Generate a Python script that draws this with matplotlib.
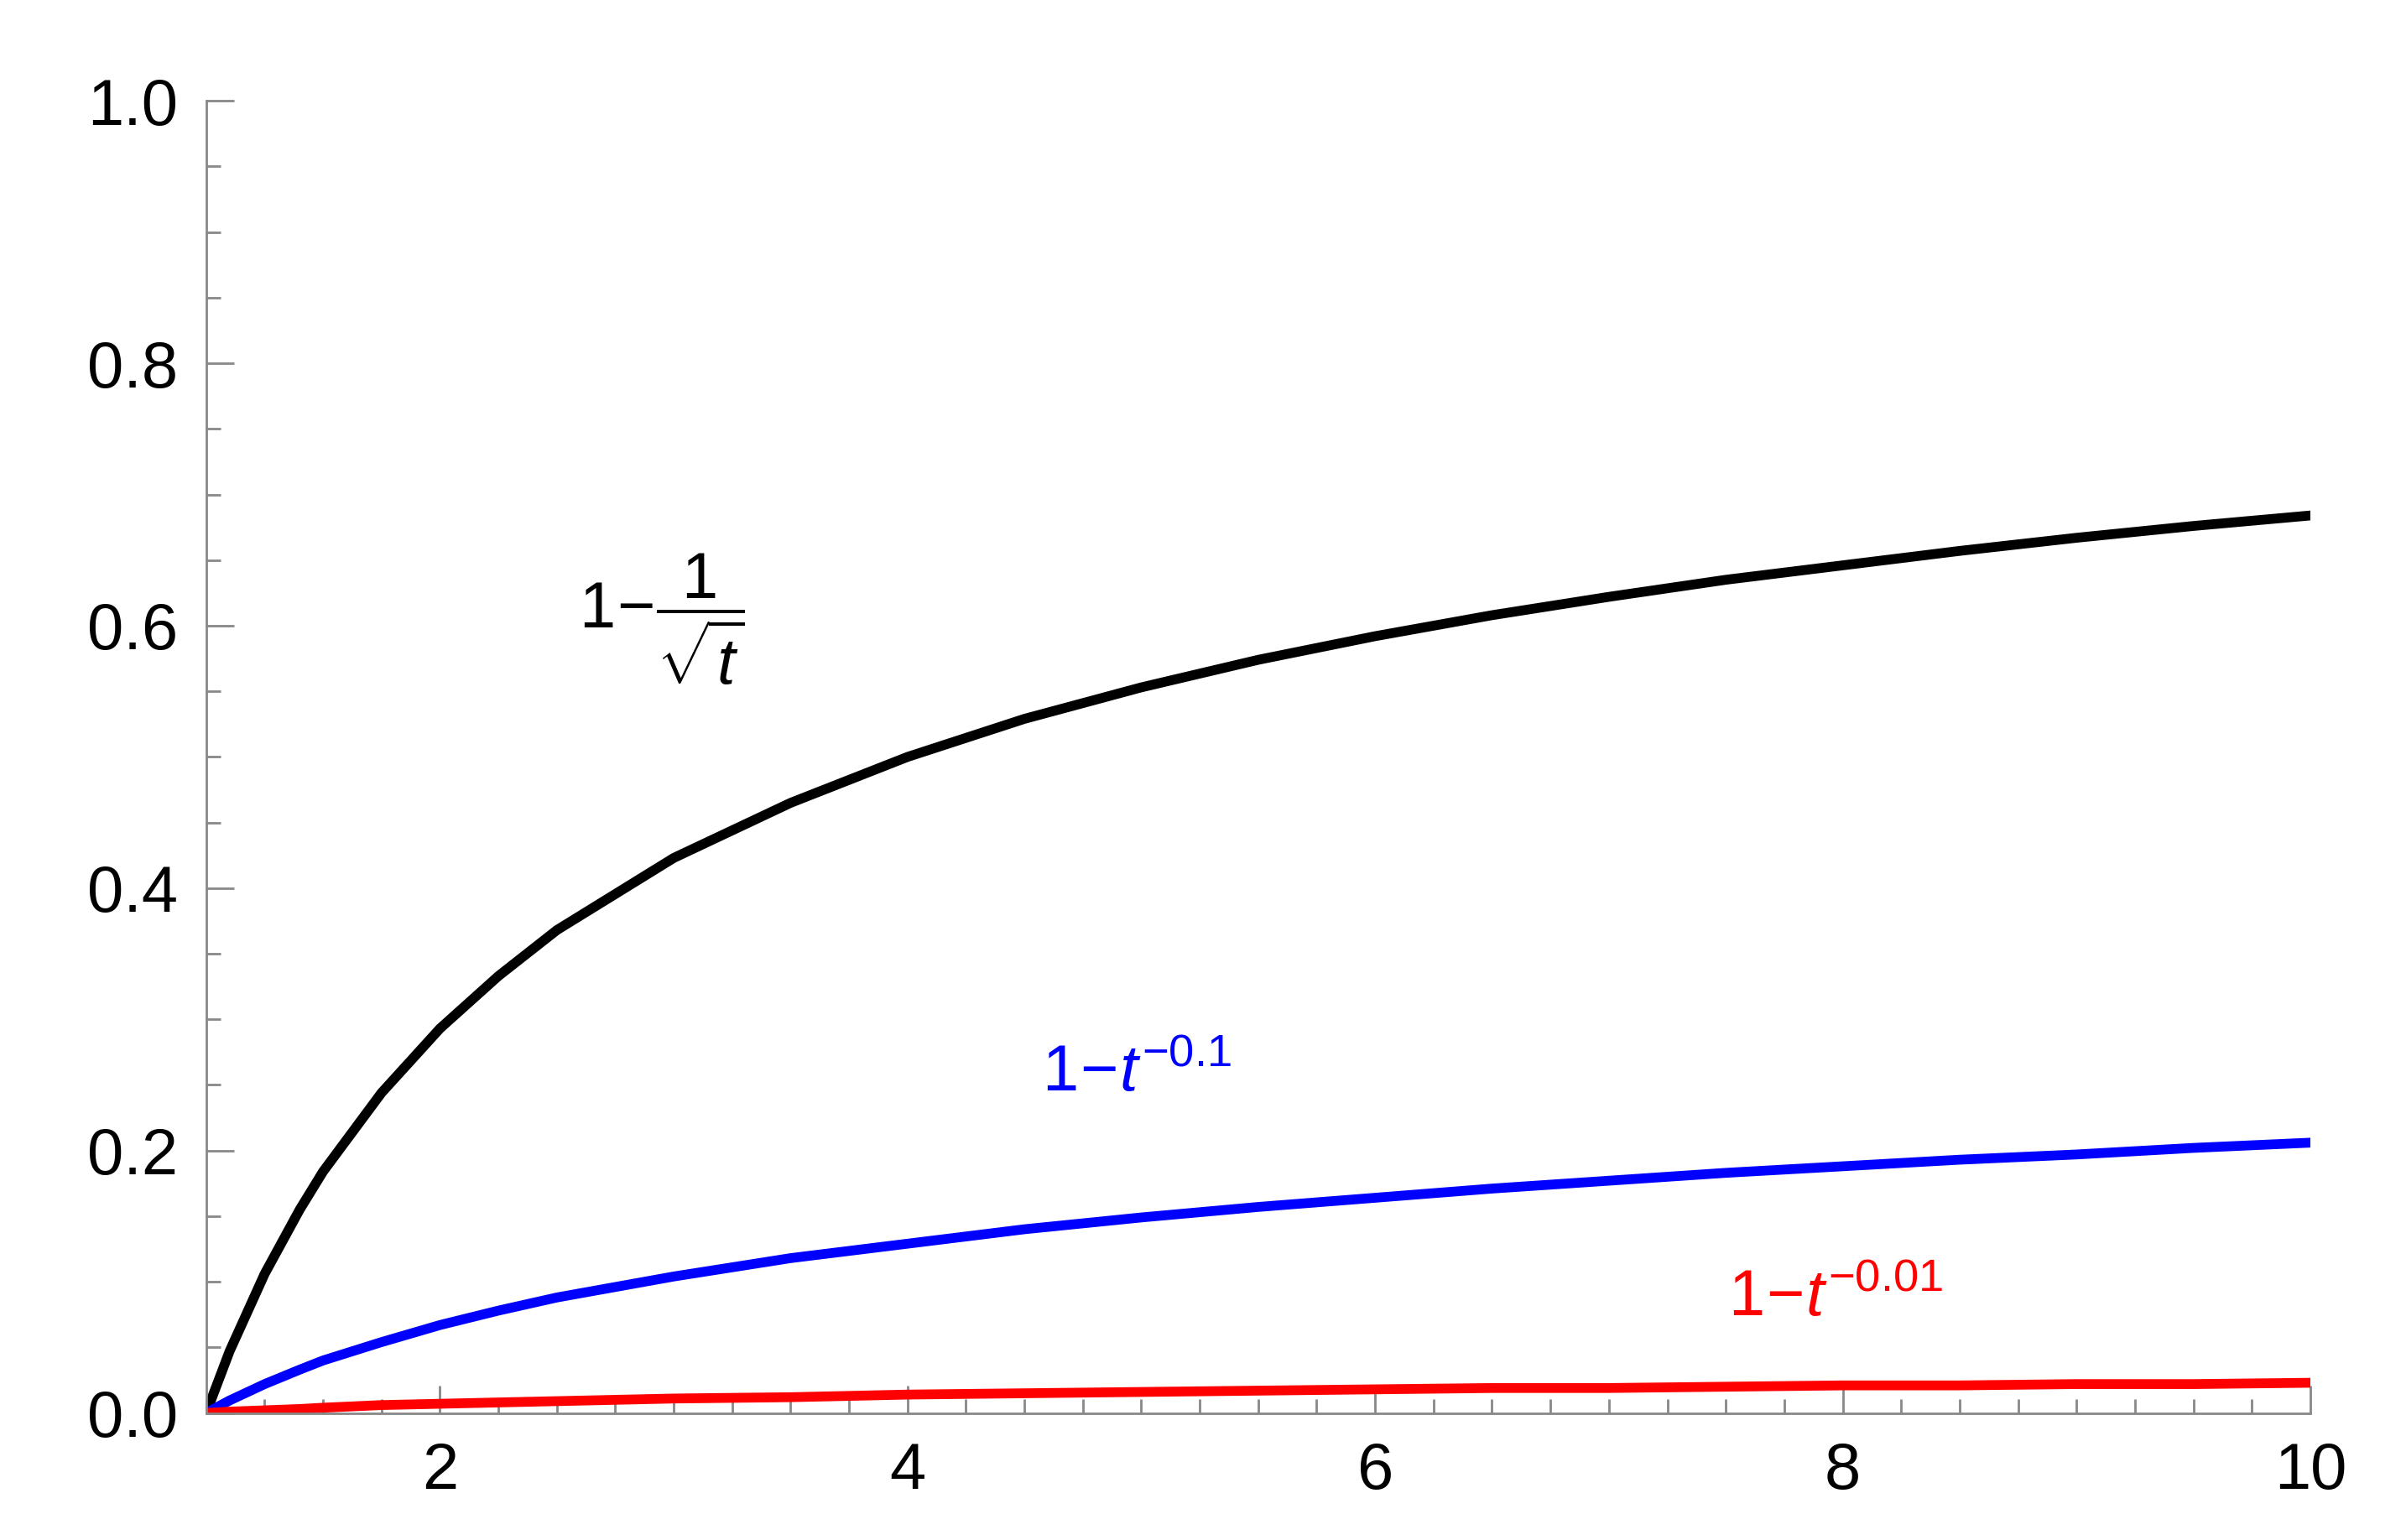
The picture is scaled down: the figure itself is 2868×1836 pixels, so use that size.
import matplotlib
matplotlib.use("Agg")
import matplotlib.pyplot as plt
from matplotlib.ticker import MultipleLocator

plt.rcParams['font.family'] = ['Liberation Sans', 'DejaVu Sans']
plt.rcParams['mathtext.fontset'] = 'custom'
plt.rcParams['mathtext.rm'] = 'Liberation Sans'
plt.rcParams['mathtext.it'] = 'Liberation Sans:italic'
plt.rcParams['mathtext.bf'] = 'Liberation Sans:bold'

# values
t = [1, 1.1, 1.25, 1.4, 1.5, 1.75, 2, 2.25, 2.5, 3, 3.5, 4, 4.5, 5, 5.5, 6, 6.5, 7, 7.5, 8,
     8.5, 9, 9.5, 10]
black = [0, .047, .106, .155, .184, .244, .293, .333, .368, .423, .465, .5, .529, .553,
         .574, .592, .608, .622, .635, .646, .657, .667, .676, .684]
blue = [0, .0095, .022, .033, .040, .054, .067, .078, .088, .104, .118, .129, .140, .149,
        .157, .164, .171, .177, .183, .188, .193, .197, .202, .206]
red = [0, .001, .002, .003, .004, .006, .007, .008, .009, .011, .012, .014, .015, .016,
       .017, .018, .019, .019, .020, .021, .021, .022, .022, .023]

fig = plt.figure(figsize=(14.34, 9.18), dpi=200)
ax = fig.add_axes([0.0857, 0.0825, 0.8745, 0.852])
ax.plot(t, black, color='black', lw=4.2, solid_joinstyle='round')
ax.plot(t, blue, color='#0000ff', lw=4.2, solid_joinstyle='round')
ax.plot(t, red, color='#ff0000', lw=4.2, solid_joinstyle='round')

ax.set_xlim(1, 10)
ax.set_ylim(0, 1)
for s in ['top', 'right']:
    ax.spines[s].set_visible(False)
for s in ['left', 'bottom']:
    ax.spines[s].set_color('#888888')
    ax.spines[s].set_linewidth(1.0)
ax.xaxis.set_major_locator(MultipleLocator(2))
ax.xaxis.set_minor_locator(MultipleLocator(0.25))
ax.yaxis.set_major_locator(MultipleLocator(0.2))
ax.yaxis.set_minor_locator(MultipleLocator(0.05))
ax.set_yticklabels(['%.1f' % v for v in ax.get_yticks()])
ax.tick_params(which='both', direction='in', color='#888888', width=1.0, labelsize=28, pad=12)
ax.tick_params(which='major', length=12)
ax.tick_params(which='minor', length=6)

ax.text(2.95, 0.605, r'$1\!-\!\dfrac{1}{\sqrt{t}}$', fontsize=28, ha='center', va='center', color='black')
ax.text(4.98, 0.258, r'$1\!-\!t^{-0.1}$', fontsize=28, ha='center', va='center', color='#0000ff')
ax.text(7.97, 0.087, r'$1\!-\!t^{-0.01}$', fontsize=28, ha='center', va='center', color='#ff0000')

fig.savefig('out.png', dpi=200)
